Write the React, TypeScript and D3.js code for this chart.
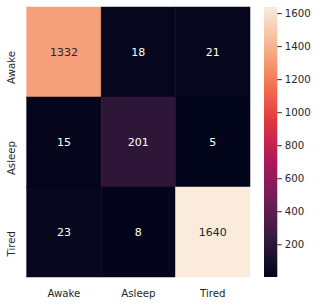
import React from "react";
import * as d3 from "d3";

const rowLabels = ["Awake", "Asleep", "Tired"];
const colLabels = ["Awake", "Asleep", "Tired"];
const matrixValues: number[][] = [
  [1332, 18, 21],
  [15, 201, 5],
  [23, 8, 1640],
];
const colorbarTicks = [200, 400, 600, 800, 1000, 1200, 1400, 1600];

// rocket colormap anchor colors
const rocketStops = ["#03051a", "#35193e", "#701f57", "#ad1759", "#e13342", "#f37651", "#f6b48f", "#faebdd"];
const rocketPos = [0, 1 / 7, 2 / 7, 3 / 7, 4 / 7, 5 / 7, 6 / 7, 1];

const W = 322;
const H = 305;
const left = 26.7;
const right = 250;
const top = 7;
const bottom = 277;
const cbLeft = 264;
const cbRight = 277.3;
const textColor = "#262626";
const font = "'DejaVu Sans', sans-serif";

export default function App() {
  const all = matrixValues.flat();
  const vmin = d3.min(all) as number;
  const vmax = d3.max(all) as number;
  const rocket = d3
    .scaleLinear<string>()
    .domain(rocketPos)
    .range(rocketStops)
    .interpolate(d3.interpolateRgb)
    .clamp(true);
  const color = (v: number) => rocket((v - vmin) / (vmax - vmin));

  const x = d3.scaleBand<string>().domain(colLabels).range([left, right]);
  const y = d3.scaleBand<string>().domain(rowLabels).range([top, bottom]);
  const cb = d3.scaleLinear().domain([vmin, vmax]).range([bottom, top]);

  const isLight = (c: string) => {
    const rgb = d3.rgb(c);
    const f = (u: number) => {
      const s = u / 255;
      return s <= 0.03928 ? s / 12.92 : Math.pow((s + 0.055) / 1.055, 2.4);
    };
    const lum = 0.2126 * f(rgb.r) + 0.7152 * f(rgb.g) + 0.0722 * f(rgb.b);
    return lum > 0.408;
  };

  const gradStops = d3.range(0, 1.0001, 0.02);

  return (
    <svg
      width={W}
      height={H}
      style={{ position: "absolute", left: 0, top: 0, background: "#ffffff" }}
      fontFamily={font}
    >
      <defs>
        <linearGradient id="rocketGrad" x1="0" y1="1" x2="0" y2="0">
          {gradStops.map((t, i) => (
            <stop key={i} offset={t} stopColor={rocket(t)} />
          ))}
        </linearGradient>
      </defs>
      {matrixValues.map((row, ri) =>
        row.map((v, ci) => {
          const c = color(v);
          const cx = (x(colLabels[ci]) as number) + x.bandwidth() / 2;
          const cy = (y(rowLabels[ri]) as number) + y.bandwidth() / 2;
          return (
            <g key={`${ri}-${ci}`}>
              <rect
                x={x(colLabels[ci])}
                y={y(rowLabels[ri])}
                width={x.bandwidth()}
                height={y.bandwidth()}
                fill={c}
                stroke={c}
                strokeWidth={0.5}
              />
              <text
                x={cx}
                y={cy}
                textAnchor="middle"
                dominantBaseline="central"
                fontSize={11}
                fill={isLight(c) ? textColor : "#ffffff"}
              >
                {v}
              </text>
            </g>
          );
        })
      )}
      {colLabels.map((l) => (
        <text
          key={"x" + l}
          x={(x(l) as number) + x.bandwidth() / 2}
          y={297.3}
          textAnchor="middle"
          fontSize={10.2}
          fill={textColor}
        >
          {l}
        </text>
      ))}
      {rowLabels.map((l) => (
        <text
          key={"y" + l}
          transform={`translate(14.7, ${(y(l) as number) + y.bandwidth() / 2 - 1}) rotate(-90)`}
          textAnchor="end"
          fontSize={10.2}
          fill={textColor}
        >
          {l}
        </text>
      ))}
      <rect x={cbLeft} y={top} width={cbRight - cbLeft} height={bottom - top} fill="url(#rocketGrad)" />
      {colorbarTicks.map((t) => (
        <g key={"cb" + t}>
          <line x1={cbRight} x2={cbRight + 4.5} y1={cb(t)} y2={cb(t)} stroke={textColor} strokeWidth={1} />
          <text x={cbRight + 7.5} y={cb(t)} dominantBaseline="central" fontSize={10.2} fill={textColor}>
            {t}
          </text>
        </g>
      ))}
    </svg>
  );
}
